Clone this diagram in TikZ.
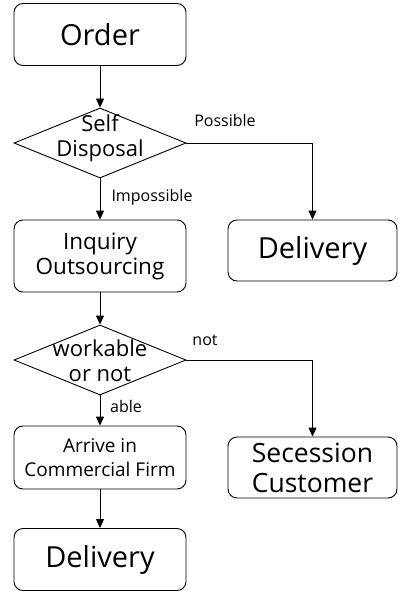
\documentclass[tikz,border=0pt]{standalone}
\usepackage{fontspec}
\setmainfont{Open Sans}
\usetikzlibrary{arrows.meta, positioning, shapes.geometric}
\tikzset{
  >={Triangle[length=9pt, width=8pt]},
  %
  stepbox/.style={draw, line width=0.9pt, rounded corners=9pt,
    minimum width=172pt, minimum height=62pt, align=center, inner sep=1pt},
  bigbox/.style={stepbox, font=\fontsize{29}{32}\selectfont},
  decision/.style={draw, diamond, line width=0.9pt,
    minimum width=172pt, minimum height=70pt, inner sep=0pt},
  dtext/.style={align=center, inner sep=0pt, font=\fontsize{22}{25}\selectfont},
  flow/.style={draw, line width=0.9pt, ->},
  lbl/.style={inner sep=1pt, font=\fontsize{16}{18}\selectfont},
}
\begin{document}
\begin{tikzpicture}[x=1pt, y=-1pt]
\useasboundingbox (0,0) rectangle (397,591);

% ------------------------------------------------------------ left column
\node[bigbox] (order) at (100,34.5) {Order};
\node[decision] (self) at (100,143) {};
\node[dtext] (selft) at (100,138) {Self\\Disposal};
\node[stepbox, minimum height=72pt, font=\fontsize{22.5}{25}\selectfont]
  (inq) at (100,256) {Inquiry\\Outsourcing};
\node[decision] (work) at (100,360) {};
\node[dtext] (workt) at (100,361) {workable\\or not};
\node[stepbox, minimum height=63pt, font=\fontsize{19}{24}\selectfont]
  (arr) at (100,457.5) {Arrive in\\Commercial Firm};
\node[bigbox] (del2) at (100,559.5) {Delivery};

% ----------------------------------------------------------- right column
\node[bigbox, minimum width=169pt, minimum height=61pt] (del1) at (312.5,250.5) {Delivery};
\node[stepbox, minimum width=169pt, minimum height=61pt,
  font=\fontsize{26.5}{30}\selectfont] (sec) at (312.5,467.5) {Secession\\Customer};

% ------------------------------------------------------------- connectors
\draw[flow] (order) -- (self);
\draw[flow] (self) -- (inq);
\draw[flow] (inq) -- (work);
\draw[flow] (work) -- (arr);
\draw[flow] (arr) -- (del2);
\draw[flow] (self.east) -| (del1.north);
\draw[flow] (work.east) -| (sec.north);

\node[lbl] (lposs) at (225,121) {Possible};
\node[lbl] (limp) at (152,197) {Impossible};
\node[lbl] (lnot) at (205,340) {not};
\node[lbl] (lable) at (126,406) {able};

\end{tikzpicture}
\end{document}
